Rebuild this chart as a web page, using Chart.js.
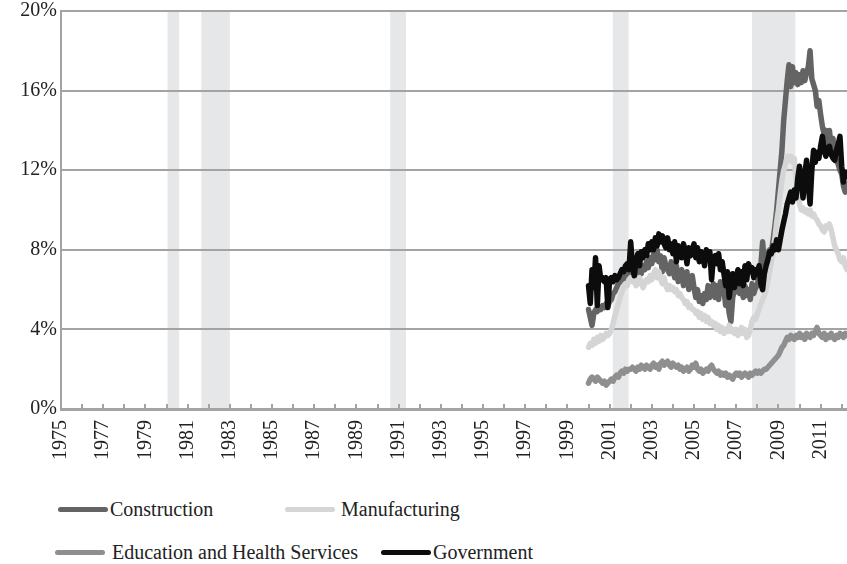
<!DOCTYPE html>
<html>
<head>
<meta charset="utf-8">
<script src="https://cdn.jsdelivr.net/npm/chart.js@4.4.1/dist/chart.umd.min.js"></script>
<style>
    html, body { margin: 0; padding: 0; background: #fff; }
    #wrap { position: relative; width: 847px; height: 564px; overflow: hidden; font-family: "Liberation Serif", "DejaVu Serif", serif; }
    #chartBox { position: absolute; left: 0; top: 0; width: 847px; height: 470px; }
    .legend-item { position: absolute; display: flex; align-items: center; height: 24px; font-size: 20px; color: #222; white-space: nowrap; }
    .legend-item .swatch { width: 50px; height: 5px; border-radius: 3px; }
</style>
</head>
<body>
<div id="wrap">
    <div id="chartBox"><canvas id="rateChart"></canvas></div>
    <div id="legend"></div>
</div>
<script>
// Monthly series, Jan 2000 onwards (percent)
const firstYear = 2000;

const construction = [
    5.0, 4.6, 4.2, 4.8, 5.0, 4.9, 5.1, 5.0, 5.2, 5.1, 5.3, 5.2,      // 2000
    5.4, 5.5, 5.8, 5.9, 6.1, 6.3, 6.4, 6.6, 6.5, 6.8, 6.7, 6.9,      // 2001
    6.8, 6.6, 6.9, 7.1, 6.7, 7.0, 6.8, 7.2, 7.0, 7.4, 7.1, 7.6,      // 2002
    7.3, 7.8, 7.5, 8.0, 7.4, 7.7, 6.9, 7.6, 7.2, 7.0, 6.8, 7.4,      // 2003
    7.0, 6.6, 7.2, 6.4, 6.8, 7.0, 6.2, 6.5, 6.9, 6.0, 6.4, 6.7,      // 2004
    6.1, 5.6, 6.0, 5.4, 5.7, 5.3, 5.8, 5.5, 6.2, 5.6, 5.9, 6.3,      // 2005
    5.6, 6.2, 5.5, 6.4, 5.8, 6.0, 5.2, 5.7, 4.8, 4.4, 5.6, 6.0,      // 2006
    5.9, 6.4, 5.8, 6.1, 5.6, 6.2, 5.7, 6.0, 5.5, 6.3, 5.8, 6.1,      // 2007
    6.2, 6.8, 7.2, 8.4, 7.3, 7.6, 7.8, 8.0, 7.9, 8.5, 9.2, 10.0,     // 2008
    11.0, 12.0, 13.0, 14.5, 15.5, 16.5, 17.3, 16.2, 17.2, 16.4, 16.9, 16.3, // 2009
    16.8, 16.4, 17.0, 16.5, 16.9, 17.2, 18.0, 16.6, 16.3, 16.0, 15.2, 15.5, // 2010
    14.8, 14.2, 13.8, 14.0, 13.3, 14.0, 13.2, 13.6, 12.8, 12.5, 12.3, 12.0, // 2011
    11.8, 11.2, 10.9, 11.3                                           // 2012
];

const manufacturing = [
    3.1, 3.3, 3.2, 3.5, 3.3, 3.6, 3.4, 3.7, 3.5, 3.6, 3.8, 3.7,
    3.8, 4.0, 4.3, 4.7, 5.0, 5.3, 5.6, 5.9, 6.1, 6.3, 6.2, 6.5,
    6.6, 6.4, 6.5, 6.2, 6.3, 6.6, 6.4, 6.1, 6.3, 6.5, 6.4, 6.7,
    6.5, 6.8, 7.0, 6.6, 6.9, 6.5, 6.3, 6.6, 6.2, 6.0, 6.2, 6.0,
    6.1, 5.9, 6.0, 5.7, 5.8, 5.6, 5.5, 5.3, 5.4, 5.1, 5.2, 5.0,
    5.0, 4.8, 4.9, 4.6, 4.8, 4.5, 4.7, 4.4, 4.6, 4.3, 4.4, 4.2,
    4.3, 4.0, 4.2, 3.9, 4.1, 3.8, 4.0, 3.9, 4.2, 3.9, 4.0, 3.8,
    4.0, 3.7, 3.9, 4.1, 3.8, 4.0, 3.6, 3.7, 4.0, 4.4, 4.6, 4.5,
    4.8, 5.0, 5.3, 5.5, 5.7, 6.0, 6.4, 6.9, 7.4, 7.9, 8.6, 9.4,
    10.0, 10.8, 11.5, 12.0, 12.3, 12.7, 12.5, 12.7, 12.4, 12.6, 11.6, 11.0,
    10.3, 10.0, 10.1, 9.9, 10.0, 9.8, 10.0, 9.7, 9.8, 9.6, 9.5, 9.3,
    9.2, 9.0, 8.9, 9.2, 9.1, 9.3, 9.0, 8.6, 8.2, 8.0, 7.8, 7.5,
    7.4, 7.6, 7.2, 7.0
];

const eduHealth = [
    1.3, 1.5, 1.6, 1.5, 1.4, 1.6, 1.5, 1.4, 1.3, 1.4, 1.2, 1.3,
    1.4, 1.5, 1.4, 1.6, 1.7, 1.6, 1.8, 1.9, 1.8, 2.0, 1.9, 2.0,
    2.0, 2.1, 2.0, 1.9, 2.1, 2.0, 2.2, 2.1, 2.0, 2.2, 2.1, 2.0,
    2.2, 2.3, 2.1, 2.2, 2.0, 2.3, 2.4, 2.2, 2.3, 2.4, 2.2, 2.1,
    2.3, 2.2, 2.1, 2.2, 2.0, 2.1, 1.9, 2.0, 2.1, 1.9, 2.0, 2.2,
    2.1, 2.3, 2.0, 1.9, 2.0, 1.8, 1.9, 2.0, 1.9, 2.1, 2.2, 2.0,
    1.9, 1.8, 1.9, 1.7, 1.8, 1.7, 1.8, 1.6, 1.7, 1.6, 1.5, 1.7,
    1.8, 1.7, 1.8, 1.6, 1.7, 1.8, 1.7, 1.6, 1.8, 1.7, 1.8, 1.9,
    1.8, 1.9, 1.8, 1.9, 2.0, 2.0, 2.1, 2.2, 2.3, 2.4, 2.5, 2.6,
    2.7, 2.9, 3.1, 3.2, 3.4, 3.6, 3.5, 3.7, 3.6, 3.5, 3.7, 3.6,
    3.8, 3.6, 3.7, 3.5, 3.8, 3.7, 3.6, 3.8, 3.7, 3.9, 4.1, 3.8,
    3.7, 3.6, 3.8, 3.5, 3.7, 3.6, 3.8, 3.6, 3.5, 3.7, 3.6, 3.8,
    3.7, 3.6, 3.8, 3.7
];

const government = [
    6.2, 5.3, 7.0, 6.1, 7.6, 5.2, 7.2, 6.5, 6.6, 6.4, 6.6, 5.1,
    6.5, 6.6, 6.4, 6.7, 6.5, 6.6, 6.8, 7.0, 6.9, 7.2, 7.3, 7.0,
    8.4, 7.2, 6.7, 7.4, 7.8, 7.2, 7.9, 7.6, 8.0, 7.7, 8.3, 8.0,
    8.4, 8.0, 8.6, 8.2, 8.8, 8.4, 8.7, 8.3, 8.1, 8.6, 8.0, 8.3,
    7.8, 8.4, 7.4, 8.2, 8.0, 7.6, 8.3, 7.9, 7.3, 8.1, 7.7, 8.0,
    8.3, 7.6, 8.1, 7.4, 7.9, 7.7, 7.2, 8.0, 7.5, 7.9, 6.5, 7.6,
    7.7, 7.3, 7.8, 7.0, 7.4, 6.8, 6.2, 6.9, 5.6, 6.4, 6.8, 6.1,
    6.6, 7.0, 6.3, 6.9, 6.2, 7.2, 6.5, 7.3, 6.9, 7.1, 6.6, 7.0,
    6.8, 7.2, 6.3, 6.0, 6.8, 7.2, 7.5, 7.9, 7.8, 8.2, 8.0, 8.5,
    8.0, 8.5, 9.0, 9.4, 9.8, 10.3, 10.6, 10.9, 10.4, 11.0, 10.6, 11.6,
    12.2, 11.4, 10.6, 11.8, 12.5, 11.2, 10.3, 12.0, 13.0, 12.4, 12.9, 12.6,
    13.2, 13.7, 13.0, 12.7, 13.1, 13.2, 12.8, 12.6, 12.5, 13.0, 13.3, 13.7,
    12.2, 11.4, 11.9, 11.7
];

const seriesNames = ['Construction', 'Manufacturing', 'Education and Health Services', 'Government'];
const seriesValues = [construction, manufacturing, eduHealth, government];
const seriesColors = ['#646464', '#d5d5d5', '#8f8f8f', '#0c0c0c'];

// Recessions (start, end) in decimal years
const recessions = [[1980.05, 1980.6], [1981.65, 1983.0], [1990.6, 1991.35], [2001.15, 2001.9], [2007.75, 2009.8]];

const yearTicks = [];
for (let y = 1975; y <= 2012; y++) yearTicks.push(y);
const tickLabels = [1975, 1977, 1979, 1981, 1983, 1985, 1987, 1989, 1991, 1993,
    1995, 1997, 1999, 2001, 2003, 2005, 2007, 2009, 2011];
const yTicks = [0, 4, 8, 12, 16, 20];

const axisGray = '#a3a3a3';
const textColor = '#222';
Chart.defaults.font.family = '"Liberation Serif", "DejaVu Serif", serif';

// shaded recession bars, under the grid
const recessionBands = {
    id: 'recessionBands',
    beforeDraw(chart) {
        const { ctx, chartArea, scales: { x } } = chart;
        ctx.save();
        ctx.fillStyle = '#e6e7e9';
        recessions.forEach(([a, b]) => {
            const x1 = x.getPixelForValue(a);
            const x2 = x.getPixelForValue(b);
            ctx.fillRect(x1, chartArea.top, x2 - x1, chartArea.bottom - chartArea.top);
        });
        ctx.restore();
    }
};

// tick marks pointing into the plot
const innerTicks = {
    id: 'innerTicks',
    beforeDatasetsDraw(chart) {
        const { ctx, chartArea, scales: { x } } = chart;
        ctx.save();
        ctx.strokeStyle = axisGray;
        ctx.lineWidth = 2;
        yearTicks.forEach(v => {
            const px = Math.round(x.getPixelForValue(v));
            ctx.beginPath();
            ctx.moveTo(px, chartArea.bottom);
            ctx.lineTo(px, chartArea.bottom - 5);
            ctx.stroke();
        });
        ctx.restore();
    }
};

const datasets = seriesNames.map((name, i) => ({
    label: name,
    data: seriesValues[i].map((v, m) => ({ x: firstYear + m / 12, y: v })),
    borderColor: seriesColors[i],
    backgroundColor: seriesColors[i],
    borderWidth: 5.5,
    pointRadius: 0,
    tension: 0,
    borderJoinStyle: 'round',
    borderCapStyle: 'round',
    order: seriesNames.length - i
}));

new Chart(document.getElementById('rateChart').getContext('2d'), {
    type: 'line',
    data: { datasets: datasets },
    plugins: [recessionBands, innerTicks],
    options: {
        responsive: true,
        maintainAspectRatio: false,
        animation: false,
        layout: { padding: { top: 11, right: 0, bottom: 0, left: 0 } },
        plugins: {
            legend: { display: false },
            tooltip: { enabled: false }
        },
        scales: {
            x: {
                type: 'linear',
                min: 1975,
                max: 2012.25,
                afterBuildTicks: scale => { scale.ticks = yearTicks.map(v => ({ value: v })); },
                afterFit: scale => {
                    scale.height = 61;
                    scale.paddingLeft = 0;
                    scale.paddingRight = 0;
                },
                grid: { display: true, drawOnChartArea: false, drawTicks: false },
                border: { display: true, color: axisGray, width: 3 },
                ticks: {
                    autoSkip: false,
                    minRotation: 90,
                    maxRotation: 90,
                    padding: 11,
                    color: textColor,
                    font: { size: 20 },
                    callback: v => tickLabels.includes(v) ? String(v) : ''
                }
            },
            y: {
                min: 0,
                max: 20,
                afterBuildTicks: scale => { scale.ticks = yTicks.map(v => ({ value: v })); },
                afterFit: scale => {
                    scale.width = 61;
                    scale.paddingTop = 0;
                    scale.paddingBottom = 0;
                },
                grid: { color: axisGray, lineWidth: 2, drawTicks: false },
                border: { display: true, color: axisGray, width: 2 },
                ticks: {
                    padding: 4,
                    color: textColor,
                    font: { size: 20 },
                    callback: v => v + '%'
                }
            }
        }
    }
});

// legend laid out in two rows below the chart
const legendSlots = [
    { left: 58, top: 497, gap: 2 },
    { left: 285, top: 497, gap: 6 },
    { left: 55, top: 540, gap: 7 },
    { left: 381, top: 540, gap: 2 }
];
const legendBox = document.getElementById('legend');
seriesNames.forEach((name, i) => {
    const item = document.createElement('div');
    item.className = 'legend-item';
    item.style.left = legendSlots[i].left + 'px';
    item.style.top = legendSlots[i].top + 'px';
    item.innerHTML = `<span class="swatch" style="background:${seriesColors[i]};margin-right:${legendSlots[i].gap}px"></span><span>${name}</span>`;
    legendBox.appendChild(item);
});
</script>
</body>
</html>
